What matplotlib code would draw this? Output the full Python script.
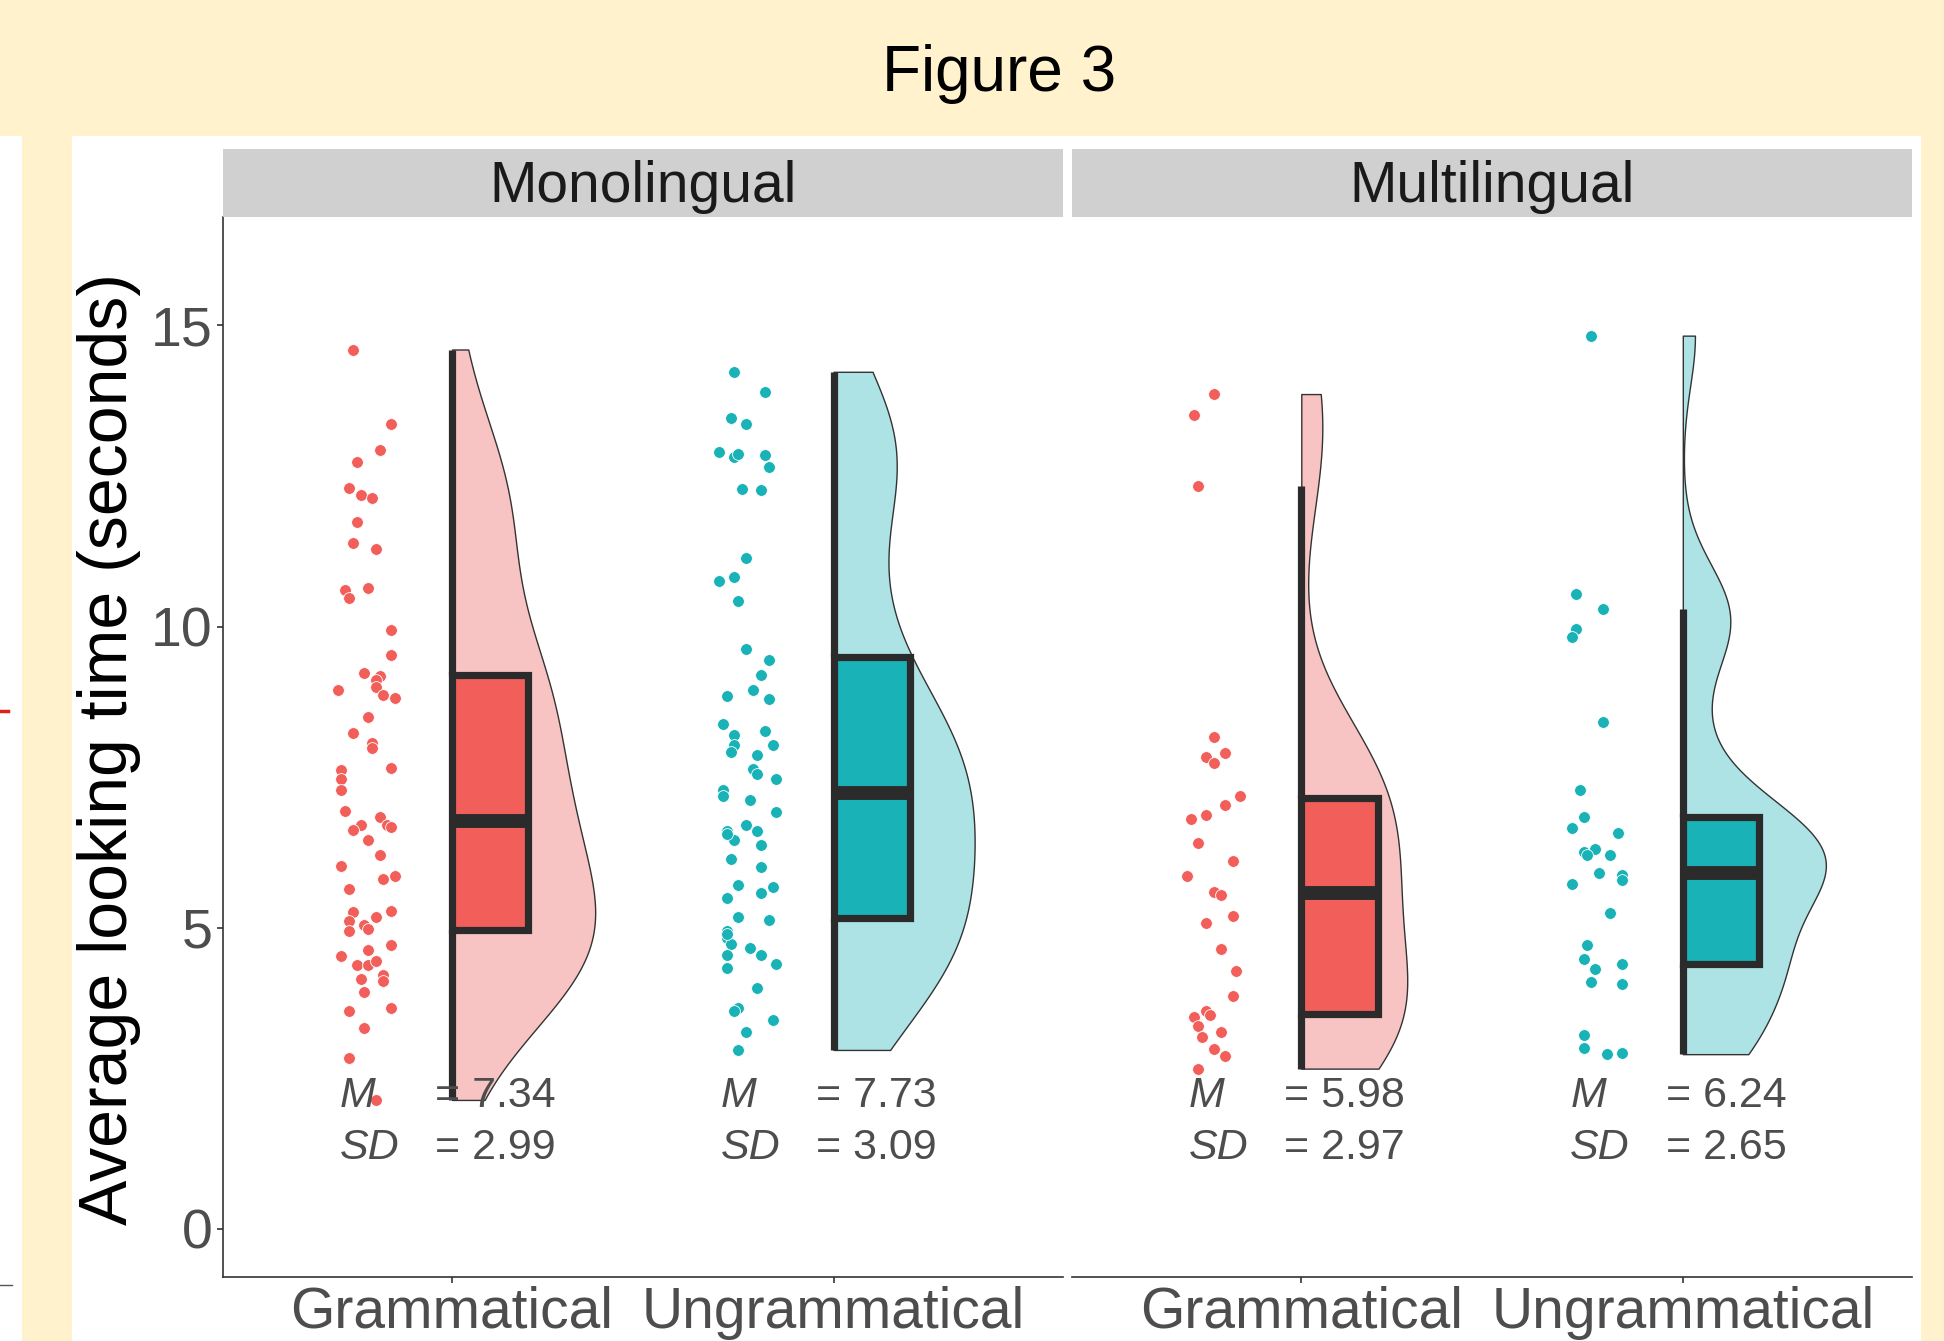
import matplotlib.pyplot as plt
import numpy as np
from matplotlib import mlab
from matplotlib.patches import Rectangle
from matplotlib.lines import Line2D

plt.rcParams['font.family'] = ['Liberation Sans', 'DejaVu Sans']

# looking times (seconds) per participant, one list per panel/condition
groups = ['Monolingual', 'Multilingual']
conditions = ['Grammatical', 'Ungrammatical']

mono_gram = [14.60, 13.36, 12.93, 12.73, 12.30, 12.18, 12.14, 11.74, 11.38, 11.28,
             10.60, 10.47, 10.64, 9.94, 9.53, 9.23, 9.18, 9.12, 9.00, 8.95,
             8.86, 8.81, 8.49, 8.24, 8.07, 7.98, 7.65, 7.61, 7.47, 7.29,
             6.94, 6.84, 6.71, 6.62, 6.71, 6.68, 6.45, 6.20, 6.02, 5.81,
             5.86, 5.65, 5.26, 5.17, 5.27, 5.11, 4.94, 5.05, 4.97, 4.72,
             4.53, 4.63, 4.38, 4.38, 4.45, 4.22, 4.11, 4.14, 3.93, 3.62,
             3.67, 3.34, 2.84, 2.14]
mono_gram_jitter = [-0.26, -0.16, -0.19, -0.25, -0.27, -0.24, -0.21, -0.25, -0.26, -0.20,
                    -0.28, -0.27, -0.22, -0.16, -0.16, -0.23, -0.19, -0.20, -0.20, -0.30,
                    -0.18, -0.15, -0.22, -0.26, -0.21, -0.21, -0.16, -0.29, -0.29, -0.29,
                    -0.28, -0.19, -0.24, -0.26, -0.17, -0.16, -0.22, -0.19, -0.29, -0.18,
                    -0.15, -0.27, -0.26, -0.20, -0.16, -0.27, -0.27, -0.23, -0.22, -0.16,
                    -0.29, -0.22, -0.25, -0.22, -0.20, -0.18, -0.18, -0.24, -0.23, -0.27,
                    -0.16, -0.23, -0.27, -0.20]

mono_ungram = [14.23, 13.90, 13.46, 13.36, 12.89, 12.81, 12.86, 12.85, 12.65, 12.28,
               12.27, 11.14, 10.76, 10.82, 10.42, 9.62, 9.45, 9.20, 8.94, 8.84,
               8.79, 8.39, 8.26, 8.20, 8.04, 8.03, 7.91, 7.86, 7.64, 7.56,
               7.47, 7.29, 7.19, 7.12, 6.92, 6.71, 6.60, 6.60, 6.45, 6.37,
               6.14, 6.00, 5.71, 5.67, 5.49, 5.58, 5.17, 5.12, 4.94, 4.83,
               4.73, 4.67, 4.54, 4.54, 4.39, 4.33, 4.00, 3.67, 3.61, 3.46,
               3.27, 2.97, 6.55, 4.90]
mono_ungram_jitter = [-0.26, -0.18, -0.27, -0.23, -0.30, -0.26, -0.25, -0.18, -0.17, -0.24,
                      -0.19, -0.23, -0.30, -0.26, -0.25, -0.23, -0.17, -0.19, -0.21, -0.28,
                      -0.17, -0.29, -0.18, -0.26, -0.26, -0.16, -0.27, -0.20, -0.21, -0.20,
                      -0.15, -0.29, -0.29, -0.22, -0.15, -0.23, -0.20, -0.28, -0.26, -0.19,
                      -0.27, -0.19, -0.25, -0.16, -0.28, -0.19, -0.25, -0.17, -0.28, -0.28,
                      -0.27, -0.22, -0.28, -0.19, -0.15, -0.28, -0.20, -0.25, -0.26, -0.16,
                      -0.23, -0.25, -0.28, -0.28]

multi_gram = [13.86, 13.52, 12.33, 8.16, 7.84, 7.90, 7.73, 7.19, 7.04, 6.87,
              6.81, 6.40, 6.10, 5.85, 5.60, 5.54, 5.19, 5.08, 4.65, 4.28,
              3.86, 3.62, 3.55, 3.52, 3.36, 3.19, 3.27, 2.99, 2.87, 2.66]
multi_gram_jitter = [-0.23, -0.28, -0.27, -0.23, -0.25, -0.20, -0.23, -0.16, -0.20, -0.25,
                     -0.29, -0.27, -0.18, -0.30, -0.23, -0.21, -0.18, -0.25, -0.21, -0.17,
                     -0.18, -0.25, -0.24, -0.28, -0.27, -0.26, -0.21, -0.23, -0.20, -0.27]

multi_ungram = [14.83, 10.54, 10.29, 9.96, 9.83, 8.41, 7.29, 6.83, 6.65, 6.58,
                6.26, 6.30, 6.20, 6.21, 5.88, 5.90, 5.80, 5.72, 5.24, 4.72,
                4.48, 4.31, 4.39, 4.09, 4.07, 3.21, 3.01, 2.90, 2.92]
multi_ungram_jitter = [-0.24, -0.28, -0.21, -0.28, -0.29, -0.21, -0.27, -0.26, -0.29, -0.17,
                       -0.26, -0.23, -0.25, -0.19, -0.16, -0.22, -0.16, -0.29, -0.19, -0.25,
                       -0.26, -0.23, -0.16, -0.24, -0.16, -0.26, -0.26, -0.20, -0.16]

mean_labels = [['7.34', '7.73'], ['5.98', '6.24']]
sd_labels = [['2.99', '3.09'], ['2.97', '2.65']]

panel_data = [[(mono_gram, mono_gram_jitter), (mono_ungram, mono_ungram_jitter)],
              [(multi_gram, multi_gram_jitter), (multi_ungram, multi_ungram_jitter)]]

dark_cols = ['#F25F5B', '#19B2B6']
light_cols = ['#F8C4C3', '#ADE3E5']
line_col = '#2B2B2B'
axis_col = '#333333'
tick_text = '#4D4D4D'

W, H = 1944, 1341
fig = plt.figure(figsize=(W / 100, H / 100), dpi=100, facecolor='#FFF2CC')

# white slide areas below the title bar
fig.add_artist(Rectangle((72 / W, 0), (1921 - 72) / W, 1 - 136 / H, transform=fig.transFigure,
                         facecolor='white', edgecolor='none', zorder=-5))
fig.add_artist(Rectangle((0, 0), 22 / W, 1 - 136 / H, transform=fig.transFigure,
                         facecolor='white', edgecolor='none', zorder=-5))
fig.add_artist(Line2D([0, 8 / W], [1 - 711 / H] * 2, transform=fig.transFigure, color='#E0201B', lw=2.5))
fig.add_artist(Line2D([0, 12 / W], [1 - 1285 / H] * 2, transform=fig.transFigure, color='#555555', lw=1))

fig.text(999 / W, 1 - 74 / H, 'Figure 3', ha='center', va='center', fontsize=46, color='black')

panel_x = [223.2, 1072.4]
panel_w = 839.3
ax_bottom = 1 - 1277 / H
ax_height = (1277 - 217) / H
half_width = 0.375


def nrd0_kde(vals):
    vals = np.asarray(vals)
    sd = vals.std(ddof=1)
    q1, q3 = np.percentile(vals, [25, 75])
    bw = 0.9 * min(sd, (q3 - q1) / 1.34) * len(vals) ** -0.2
    kde = mlab.GaussianKDE(vals, bw_method=bw / sd)
    ys = np.linspace(vals.min(), vals.max(), 512)
    return ys, kde.evaluate(ys)


for k, group in enumerate(groups):
    ax = fig.add_axes([panel_x[k] / W, ax_bottom, panel_w / W, ax_height])
    strip = fig.add_axes([panel_x[k] / W, 1 - 217 / H, panel_w / W, 68.2 / H])
    strip.set_facecolor('#D0D0D0')
    strip.set_xticks([])
    strip.set_yticks([])
    for s in strip.spines.values():
        s.set_visible(False)
    strip.text(0.5, 0.44, group, ha='center', va='center', fontsize=41, color='#1A1A1A',
               transform=strip.transAxes)

    dens_list = [nrd0_kde(v) for v, _ in panel_data[k]]
    dmax = max(d.max() for _, d in dens_list)

    for j, (vals, jit) in enumerate(panel_data[k]):
        p = j + 1
        ys, dens = dens_list[j]
        ax.fill_betweenx(ys, p, p + dens / dmax * half_width, facecolor=light_cols[j],
                         edgecolor=axis_col, linewidth=1.0, zorder=1)

        ax.scatter(p + np.asarray(jit), vals, s=72, color=dark_cols[j], edgecolors='white',
                   linewidths=0.6, zorder=2)

        bp = ax.boxplot([vals], positions=[p + 0.1], widths=0.2, whis=1.5, showfliers=False,
                        showcaps=False, patch_artist=True, manage_ticks=False, zorder=3,
                        boxprops=dict(facecolor=dark_cols[j], edgecolor=line_col, linewidth=5.2,
                                      joinstyle='miter'),
                        medianprops=dict(color=line_col, linewidth=10, solid_capstyle='butt'),
                        whiskerprops=dict(color=line_col, linewidth=5.2, solid_capstyle='butt'))
        for wl in bp['whiskers']:
            wl.set_xdata([p, p])

        ax.text(p - 0.295, 2.2, 'M', style='italic', ha='left', va='center', fontsize=31,
                color=tick_text, zorder=5)
        ax.text(p - 0.045, 2.2, '= ' + mean_labels[k][j], ha='left', va='center', fontsize=31,
                color=tick_text, zorder=5)
        ax.text(p - 0.295, 1.35, 'SD', style='italic', ha='left', va='center', fontsize=31,
                color=tick_text, zorder=5)
        ax.text(p - 0.045, 1.35, '= ' + sd_labels[k][j], ha='left', va='center', fontsize=31,
                color=tick_text, zorder=5)

    ax.set_xlim(0.4, 2.6)
    ax.set_ylim(-0.8, 16.8)
    ax.spines[['top', 'right']].set_visible(False)
    for s in ax.spines.values():
        s.set_color(axis_col)
        s.set_linewidth(1.2)
    ax.set_xticks([1, 2], conditions)
    ax.tick_params(axis='x', length=4.3, width=1.2, color=axis_col, labelsize=41,
                   labelcolor=tick_text, pad=2)
    if k == 0:
        ax.set_yticks([0, 5, 10, 15])
        ax.tick_params(axis='y', length=4.3, width=1.2, color=axis_col, labelsize=40,
                       labelcolor=tick_text, pad=3.5)
    else:
        ax.spines['left'].set_visible(False)
        ax.set_yticks([])

fig.text(109 / W, 1 - 749 / H, 'Average looking time (seconds)', rotation=90, ha='center',
         va='center', fontsize=49, color='black')

fig.savefig('out.png', dpi=100, facecolor=fig.get_facecolor())
